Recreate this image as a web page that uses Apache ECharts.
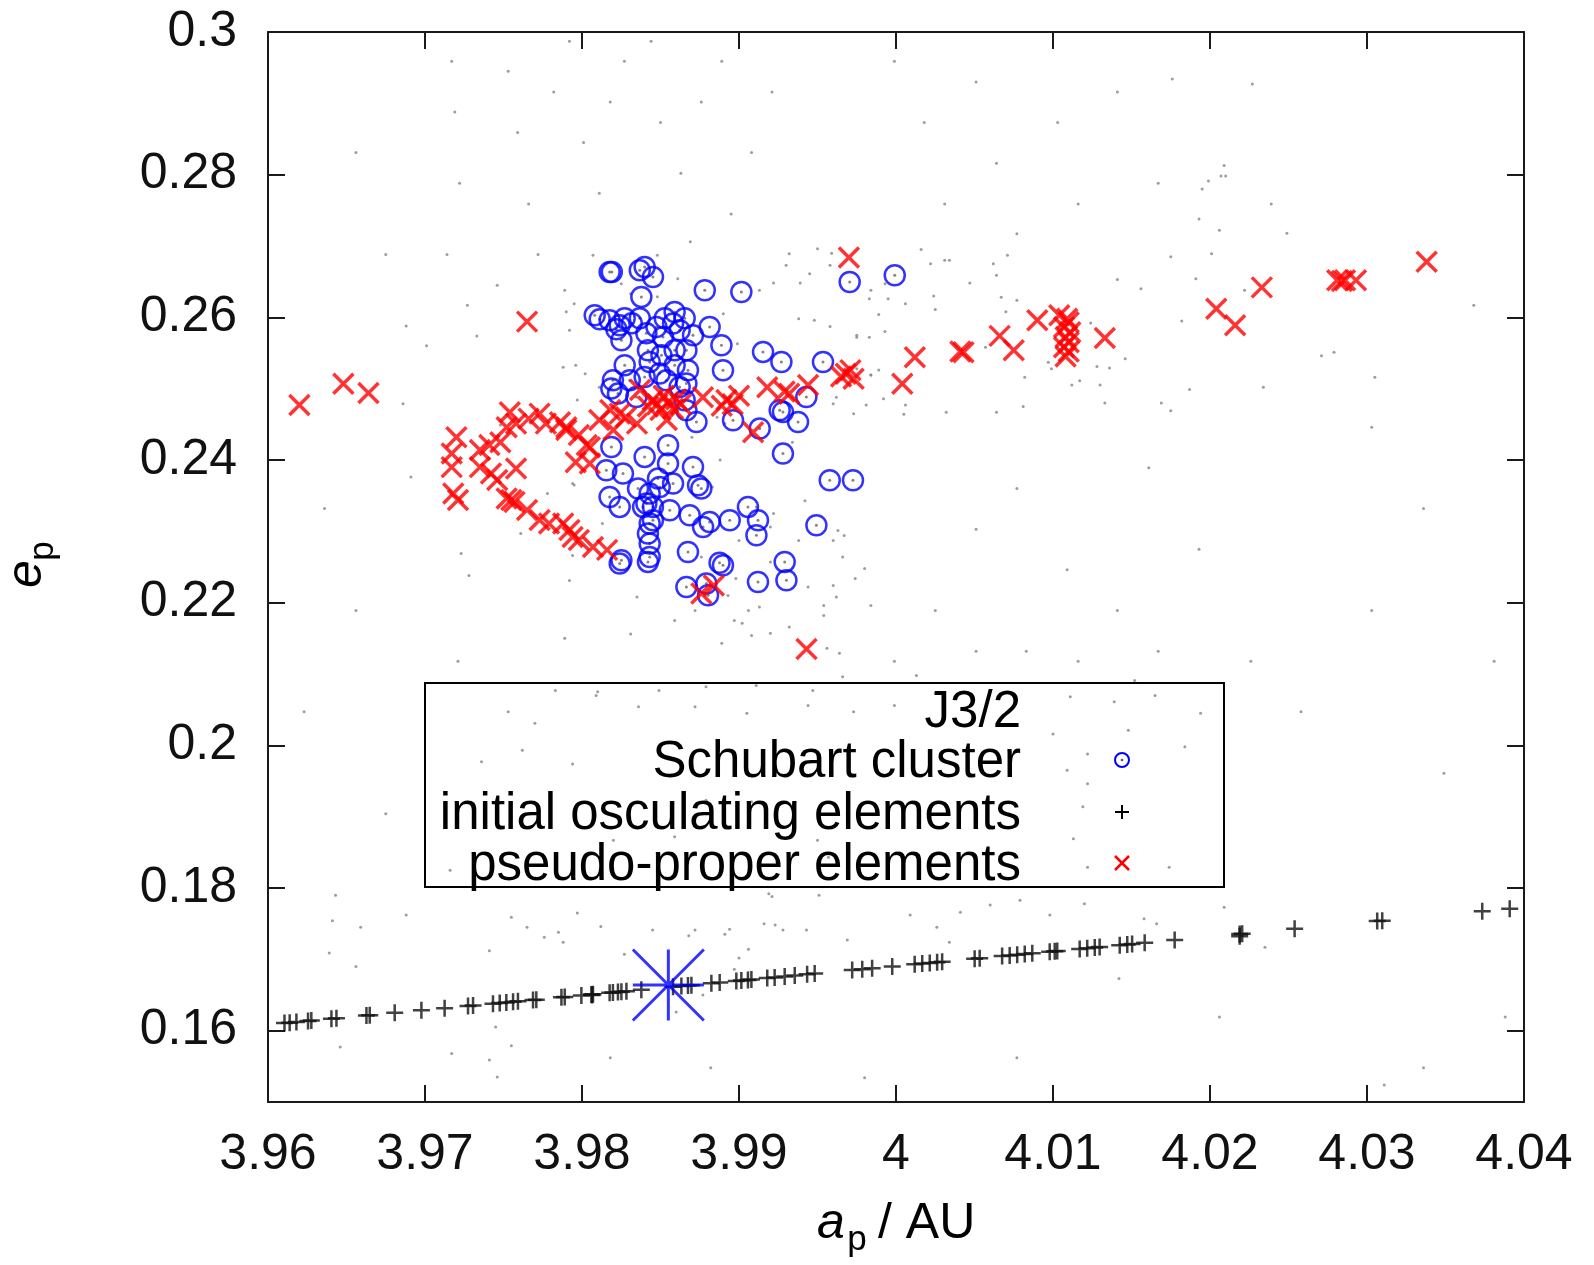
<!DOCTYPE html>
<html>
<head>
<meta charset="utf-8">
<script src="https://cdn.jsdelivr.net/npm/echarts@6/dist/echarts.min.js"></script>
<style>
html, body { margin: 0; padding: 0; background: #fff; }
#chart { width: 1594px; height: 1265px; }
</style>
</head>
<body>
<div id="chart"></div>
<script>
// Axis tick values
const xTicks = [3.96, 3.97, 3.98, 3.99, 4.00, 4.01, 4.02, 4.03, 4.04];
const yTicks = [0.16, 0.18, 0.20, 0.22, 0.24, 0.26, 0.28, 0.30];

// Legend entries
const legendTitle = 'J3/2';
const legendLabels = ['Schubart cluster', 'initial osculating elements', 'pseudo-proper elements'];

// Background asteroids of the J3/2 resonance (a_p, e_p)
const background = [
  [4.0016,0.2695],[4.0022,0.2675],[4.0031,0.2680],[4.0034,0.2680],[4.0062,0.2675],[4.0071,0.2687],[4.0064,0.2659],[4.0047,0.2648],
  [3.9993,0.2647],[3.9984,0.2638],[3.9995,0.2626],[4.0006,0.2619],[4.0024,0.2630],[4.0025,0.2611],[3.9989,0.2604],[3.9983,0.2626],
  [4.0067,0.2628],[4.0077,0.2624],[4.0070,0.2608],[4.0124,0.2592],[4.0141,0.2653],[4.0156,0.2640],[4.0175,0.2685],[4.0201,0.2689],
  [4.0191,0.2654],[4.0182,0.2595],[4.0222,0.2638],[4.0279,0.2551],[4.0305,0.2516],[4.0234,0.2502],[4.0187,0.2499],[4.0169,0.2480],
  [4.0175,0.2469],[4.0133,0.2480],[4.0130,0.2505],[4.0117,0.2511],[4.0112,0.2505],[4.0136,0.2529],[4.0128,0.2531],[4.0097,0.2537],
  [4.0099,0.2528],[4.0082,0.2516],[4.0081,0.2475],[4.0064,0.2467],[4.0032,0.2467],[4.0006,0.2477],[4.0005,0.2464],[3.9981,0.2477],
  [3.9992,0.2486],[3.9984,0.2519],[3.9989,0.2526],[4.0146,0.2542],[4.0057,0.2558],[3.9975,0.2572],[3.9983,0.2572],[3.9993,0.2580],
  [4.0176,0.2934],[4.0227,0.2927],[4.0209,0.2813],[4.0207,0.2798],[4.0210,0.2798],[4.0199,0.2791],[4.0195,0.2780],[4.0193,0.2738],
  [4.0206,0.2722],[4.0249,0.2718],
  [3.9942,0.2343],[3.9922,0.2325],[3.9920,0.2306],[3.9938,0.2287],[3.9960,0.2287],[3.9963,0.2301],[3.9967,0.2294],[3.9966,0.2264],
  [3.9980,0.2248],[3.9974,0.2234],[3.9960,0.2224],[3.9944,0.2222],[3.9954,0.2196],[3.9962,0.2208],[3.9954,0.2182],[3.9932,0.2166],
  [3.9920,0.2157],[3.9908,0.2154],[3.9902,0.2171],[3.9897,0.2175],[3.9913,0.2194],[3.9906,0.2189],[3.9889,0.2143],[3.9872,0.2189],
  [3.9859,0.2175],[3.9835,0.2208],[3.9831,0.2156],[3.9792,0.2231],[3.9789,0.2150],[3.9794,0.2266],[3.9813,0.2311],[3.9900,0.2287],
  [3.9898,0.2234],[3.9893,0.2210],[3.9911,0.2334],[3.9984,0.2196],[3.9956,0.2136],[3.9964,0.2129],[3.9920,0.2257],[3.9876,0.2264],
  [3.9807,0.2687],[3.9848,0.2687],[3.9869,0.2706],[3.9932,0.2689],[3.9950,0.2696],[3.9959,0.2690],[3.9958,0.2673],[3.9930,0.2673],
  [3.9945,0.2661],[3.9922,0.2648],[3.9939,0.2648],[3.9913,0.2638],[3.9938,0.2598],[3.9948,0.2596],[3.9958,0.2587],[3.9975,0.2575],
  [3.9975,0.2528],[3.9984,0.2519],[3.9962,0.2488],[3.9973,0.2465],[3.9960,0.2479],[3.9934,0.2425],[3.9926,0.2456],[3.9888,0.2400],
  [3.9789,0.2638],[3.9795,0.2619],[3.9790,0.2608],[3.9792,0.2582],[3.9788,0.2530],[3.9796,0.2533],[3.9802,0.2521],[3.9811,0.2502],
  [3.9797,0.2484],[3.9861,0.2654],[3.9848,0.2629],[3.9831,0.2633],[3.9825,0.2647],[3.9890,0.2605],[3.9899,0.2563],[3.9886,0.2460],
  [3.9891,0.2451],[3.9795,0.2365],
  [3.9686,0.2479],[3.9691,0.2376],[3.9748,0.2449],[3.9794,0.2367],[3.9778,0.2353],[3.9761,0.2297],[3.9723,0.2269],[3.9728,0.2238],
  [3.9870,0.2432],[3.9883,0.2362],
  [3.9641,0.1754],[3.9659,0.1745],[3.9639,0.1709],[3.9755,0.1759],[3.9765,0.1745],[3.9776,0.1731],[3.9785,0.1738],[3.9788,0.1724],
  [3.9797,0.1765],[3.9812,0.1746],[3.9845,0.1741],[3.9868,0.1733],[3.9872,0.1741],[3.9891,0.1735],[3.9894,0.1742],[3.9906,0.1714],
  [3.9900,0.1702],[3.9897,0.1686],[3.9921,0.1788],[3.9916,0.1750],[3.9741,0.1712],[3.9827,0.1707],[3.9877,0.1650],[3.9860,0.1626],
  [3.9745,0.1605],[3.9646,0.1577],[3.9717,0.1568],[3.9741,0.1559],[3.9746,0.1535],[3.9755,0.1579],[4.0311,0.1524],
  [3.9923,0.1748],[3.9928,0.1741],[3.9943,0.1741],[3.9951,0.1790],[3.9969,0.1727],[4.0009,0.1762],[4.0026,0.1745],[4.0034,0.1724],
  [4.0041,0.1766],[4.0060,0.1776],[4.0079,0.1783],[4.0098,0.1762],[4.0120,0.1778],[4.0142,0.1673],[4.0158,0.1757],[4.0166,0.1750],
  [4.0209,0.1773],[4.0235,0.1717],[3.9919,0.1792],
  [3.9783,0.2077],[3.9810,0.2075],[3.9849,0.2077],[3.9879,0.2082],[3.9911,0.2084],[3.9947,0.2077],[3.9966,0.2096],[4.0013,0.2098],
  [4.0025,0.2073],[4.0111,0.2068],[4.0139,0.2061],[4.0165,0.2070],[4.0184,0.1998],[4.0122,0.1988],[3.9770,0.2031],[3.9809,0.2070],
  [3.9836,0.2054],[3.9872,0.2054],[3.9905,0.2045],[3.9944,0.2056],[3.9973,0.2047],[3.9999,0.2056],[3.9762,0.1993],[3.9794,0.1974],
  [3.9736,0.1977],[3.9879,0.1923],[3.9908,0.1921],[4.0012,0.1960],[4.0109,0.1965],[4.0122,0.1946],[4.0119,0.1914],[4.0194,0.2045],
  [3.9820,0.1867],[3.9859,0.1872],[3.9953,0.1886],[4.0113,0.1869],[4.0122,0.1829],[4.0174,0.1829],[3.9950,0.1867],[3.9957,0.1843],
  [3.9716,0.1825],[3.9742,0.1829],[4.0100,0.2016],[4.0152,0.2091],[4.0148,0.2021],
  [3.9717,0.2959],[3.9719,0.2888],[3.9722,0.2788],[3.9714,0.2688],[3.9727,0.2617],[3.9733,0.2574],[3.9701,0.2560],[3.9688,0.2588],
  [3.9675,0.2688],[3.9656,0.2831],[3.9753,0.2945],[3.9759,0.2859],[3.9766,0.2759],[3.9772,0.2688],[3.9746,0.2645],[3.9782,0.2916],
  [3.9792,0.2987],[3.9801,0.2845],[3.9811,0.2774],[3.9818,0.2902],[3.9827,0.2959],[3.9844,0.2987],[3.9850,0.2873],[3.9863,0.2802],
  [3.9876,0.2902],[3.9889,0.2959],[3.9895,0.2745],[3.9908,0.2831],[3.9921,0.2916],[3.9999,0.2959],[4.0018,0.2873],[4.0031,0.2759],
  [4.0051,0.2930],[4.0064,0.2816],[4.0077,0.2717],[4.0103,0.2873],[4.0116,0.2759],[4.0141,0.2916],[4.0167,0.2788],[4.0239,0.2759],
  [4.0271,0.2546],[4.0303,0.2446],[4.0336,0.2332],[4.0368,0.2617],[4.0381,0.2118],[4.0349,0.1961],[4.0303,0.2189],[4.0258,0.2047],
  [4.0226,0.2118],[4.0193,0.2275],[4.0161,0.2389],[4.0141,0.2189],[4.0109,0.2246],[4.0077,0.2360],[4.0051,0.2303],[4.0025,0.2189],
  [3.9999,0.2118],[4.0051,0.2132],[4.0083,0.2132],[4.0116,0.2118],[4.0167,0.2132],[3.9636,0.2332],[3.9656,0.2189],[3.9623,0.2047],
  [3.9675,0.1904],[3.9643,0.1790],[3.9688,0.1762],[3.9656,0.1690],[3.9721,0.2118],[3.9753,0.2047],[4.0388,0.1619],[4.0336,0.1548],
  [4.0206,0.1619],[4.0077,0.1562],[3.9980,0.1534],[3.9882,0.1548],[3.9818,0.1562]
];

// Initial osculating elements of the cluster members
const initialOsculating = [
  [3.96105,0.16106],[3.96138,0.16112],[3.96181,0.16121],[3.96255,0.16136],[3.96276,0.16141],[3.96404,0.16167],[3.96436,0.16174],
  [3.96627,0.16213],[3.96648,0.16217],[3.96807,0.16250],[3.96977,0.16285],[3.97125,0.16315],[3.97274,0.16346],[3.97306,0.16352],
  [3.97433,0.16378],[3.97476,0.16387],[3.97518,0.16396],[3.97561,0.16405],[3.97592,0.16411],[3.97688,0.16431],[3.97709,0.16435],
  [3.97869,0.16468],[3.97890,0.16472],[3.97996,0.16494],[3.98060,0.16507],[3.98070,0.16509],[3.98064,0.16501],[3.98176,0.16531],
  [3.98197,0.16535],[3.98229,0.16542],[3.98251,0.16547],[3.98283,0.16553],[3.98378,0.16573],[3.98580,0.16614],[3.98633,0.16625],
  [3.98675,0.16634],[3.98697,0.16638],[3.98824,0.16664],[3.98877,0.16675],[3.98983,0.16697],[3.99015,0.16704],[3.99057,0.16712],
  [3.99079,0.16717],[3.99180,0.16737],[3.99227,0.16747],[3.99291,0.16760],[3.99355,0.16773],[3.99434,0.16790],[3.99482,0.16800],
  [3.99721,0.16849],[3.99785,0.16862],[3.99848,0.16875],[3.99976,0.16901],[4.00119,0.16930],[4.00167,0.16940],[4.00215,0.16950],
  [4.00262,0.16960],[4.00294,0.16966],[4.00501,0.17009],[4.00533,0.17016],[4.00676,0.17045],[4.00724,0.17055],[4.00772,0.17065],
  [4.00820,0.17075],[4.00868,0.17084],[4.00979,0.17107],[4.01011,0.17114],[4.01027,0.17117],[4.01170,0.17146],[4.01218,0.17156],
  [4.01266,0.17166],[4.01297,0.17173],[4.01425,0.17199],[4.01473,0.17209],[4.01504,0.17215],[4.01584,0.17231],[4.01775,0.17271],
  [4.02189,0.17356],[4.02189,0.17325],[4.02205,0.17359],[4.02539,0.17428],[4.03065,0.17536],[4.03097,0.17542],[4.03734,0.17673],
  [4.03909,0.17709]
];

// Schubart cluster members, pseudo-proper elements
const schubartCluster = [
  [3.98176,0.26636],[3.98190,0.26636],[3.98368,0.26660],[3.98399,0.26706],[3.98452,0.26566],[3.98378,0.26286],[3.98782,0.26379],
  [3.99015,0.26356],[3.99705,0.26496],[3.99992,0.26590],
  [3.98081,0.26029],[3.98176,0.25959],[3.98272,0.25987],[3.98368,0.25987],[3.98240,0.25889],[3.98251,0.25679],[3.98474,0.25865],
  [3.98590,0.26075],[3.98580,0.25913],[3.98516,0.25725],[3.98707,0.25749],[3.98813,0.25865],[3.98888,0.25608],
  [3.98420,0.25538],[3.98506,0.25468],[3.98590,0.25538],[3.98665,0.25538],[3.98272,0.25328],[3.98431,0.25374],[3.98590,0.25328],
  [3.98675,0.25258],[3.98898,0.25258],[3.99153,0.25515],[3.99270,0.25374],[3.99535,0.25374],
  [3.98197,0.25118],[3.98187,0.25002],[3.98229,0.24931],[3.98304,0.25118],[3.98399,0.25164],[3.98538,0.25118],[3.98622,0.25024],
  [3.98495,0.25212],[3.98346,0.24884],[3.98654,0.24838],[3.98665,0.25072],
  [3.98962,0.24557],[3.99132,0.24441],[3.99259,0.24697],[3.99280,0.24673],[3.99376,0.24533],[3.99429,0.24884],[3.98729,0.24533],
  [3.98665,0.24697],
  [3.98187,0.24183],[3.98548,0.24207],[3.98399,0.24043],[3.98548,0.23950],[3.98707,0.23902],[3.99280,0.24090],
  [3.98155,0.23856],[3.98261,0.23810],[3.98357,0.23600],[3.98484,0.23740],[3.98495,0.23622],[3.98580,0.23670],[3.98739,0.23646],
  [3.98760,0.23600],[3.99578,0.23716],[3.99726,0.23716],
  [3.98176,0.23482],[3.98240,0.23342],[3.98431,0.23530],[3.98389,0.23342],[3.98559,0.23295],[3.98686,0.23225],[3.98771,0.23061],
  [3.98813,0.23131],[3.98941,0.23155],[3.99057,0.23342],[3.99121,0.23155],[3.99111,0.22945],
  [3.98431,0.23109],[3.98420,0.22969],[3.98431,0.22828],[3.98675,0.22711],[3.98240,0.22548],[3.98420,0.22571],[3.98898,0.22524],
  [3.98876,0.22560],[3.99493,0.23085],[3.99291,0.22571],[3.99302,0.22314],[3.99121,0.22290],[3.98665,0.22220],[3.98792,0.22268],
  [3.98803,0.22104],
  [3.98410,0.23389],[3.98452,0.23342],[3.98452,0.23155],[3.98431,0.22641],[3.98251,0.22594],
  [3.98113,0.25973],[3.98317,0.25917],[3.98219,0.25833],[3.98410,0.25777],[3.98527,0.25987],[3.98654,0.25987],[3.98622,0.25819]
];

// Pseudo-proper elements of the cluster members
const pseudoProper = [
  [3.9620,0.2477],[3.9648,0.2507],[3.9664,0.2494],[3.9765,0.2594],
  [3.9720,0.2432],[3.9717,0.2409],[3.9717,0.2390],[3.9718,0.2353],[3.9721,0.2344],
  [3.9735,0.2414],[3.9741,0.2421],[3.9748,0.2425],[3.9735,0.2390],[3.9742,0.2381],[3.9746,0.2372],[3.9758,0.2388],
  [3.9752,0.2346],[3.9755,0.2344],[3.9757,0.2341],
  [3.9754,0.2467],[3.9752,0.2446],[3.9758,0.2451],[3.9766,0.2458],[3.9773,0.2465],[3.9777,0.2451],[3.9786,0.2453],
  [3.9790,0.2442],[3.9798,0.2435],[3.9803,0.2421],[3.9796,0.2397],[3.9805,0.2395],
  [3.9765,0.2330],[3.9773,0.2316],[3.9779,0.2311],[3.9788,0.2311],[3.9792,0.2302],[3.9794,0.2292],[3.9798,0.2288],
  [3.9807,0.2278],[3.9816,0.2274],
  [3.9811,0.2456],[3.9820,0.2442],[3.9805,0.2418],[3.9790,0.2446],[3.9824,0.2465],[3.9818,0.2470],[3.9828,0.2460],
  [3.9835,0.2451],[3.9837,0.2498],[3.9845,0.2484],[3.9848,0.2478],[3.9852,0.2490],[3.9842,0.2475],[3.9855,0.2481],
  [3.9858,0.2472],[3.9854,0.2456],[3.9850,0.2470],[3.9860,0.2485],[3.9863,0.2478],[3.9877,0.2488],[3.9892,0.2484],
  [3.9896,0.2478],[3.9900,0.2490],[3.9889,0.2476],[3.9909,0.2439],[3.9918,0.2502],[3.9932,0.2493],[3.9929,0.2496],
  [3.9944,0.2505],[3.9968,0.2521],[3.9971,0.2526],[3.9965,0.2517],[3.9973,0.2514],[3.9970,0.2684],
  [4.0004,0.2507],[4.0012,0.2544],[4.0041,0.2552],[4.0043,0.2551],[4.0066,0.2574],[4.0075,0.2554],[4.0090,0.2596],
  [4.0104,0.2603],[4.0108,0.2545],[4.0110,0.2552],[4.0107,0.2558],[4.0110,0.2565],[4.0108,0.2572],[4.0111,0.2579],
  [4.0107,0.2586],[4.0110,0.2593],[4.0109,0.2598],
  [4.0133,0.2571],[4.0204,0.2612],[4.0216,0.2589],[4.0233,0.2642],[4.0281,0.2652],[4.0284,0.2651],[4.0286,0.2652],
  [4.0293,0.2652],[4.0338,0.2678],
  [3.9876,0.2213],[3.9884,0.2224],[3.9943,0.2135]
];

// (1911) Schubart, initial osculating elements
const schubartOsculating = [[3.9855, 0.1664]];

const FONT = '"Liberation Sans", Arial, Helvetica, sans-serif';
const PLUS = 'path://M5,0L5,10M0,5L10,5';
const CROSS = 'path://M0,0L10,10M10,0L0,10';
const STAR = 'path://M50,0L50,100M0,50L100,50M0,0L100,100M100,0L0,100';
const AXIS_COLOR = '#1a1a1a';
const KEY_FONT = 51;

const fmt = v => String(parseFloat(Number(v).toFixed(2)));

function makeAxis(isX, pos, showLabels, ticks) {
  return {
    type: 'value',
    position: pos,
    min: isX ? 3.96 : 0.15,
    max: isX ? 4.04 : 0.30,
    axisLine: { show: true, onZero: false, lineStyle: { color: AXIS_COLOR, width: 2 } },
    axisTick: { show: true, inside: true, length: 17, customValues: ticks, lineStyle: { color: AXIS_COLOR, width: 2 } },
    axisLabel: {
      show: showLabels,
      customValues: ticks,
      formatter: fmt,
      fontSize: 50,
      fontFamily: FONT,
      color: '#111',
      margin: isX ? 28 : 31
    },
    splitLine: { show: false }
  };
}

const chart = echarts.init(document.getElementById('chart'), null, { renderer: 'canvas' });

const legendX = 1021, markX = 1122;
const textY = [713, 763, 815, 866];
const rowY = [760, 812, 863];

function keyText(text, y) {
  return { type: 'text', z: 10, x: legendX, y: y,
    style: { text: text, fontSize: KEY_FONT, fontFamily: FONT, fill: '#000', align: 'right', verticalAlign: 'middle' } };
}

chart.setOption({
  animation: false,
  backgroundColor: '#fff',
  grid: { left: 268, top: 32, width: 1256, height: 1070, containLabel: false },
  xAxis: [makeAxis(true, 'bottom', true, xTicks), makeAxis(true, 'top', false, xTicks)],
  yAxis: [makeAxis(false, 'left', true, yTicks), makeAxis(false, 'right', false, yTicks)],
  series: [
    {
      name: 'background', type: 'scatter', data: background, silent: true, z: 1,
      symbol: 'circle', symbolSize: 3, itemStyle: { color: '#858585' }
    },
    {
      name: legendLabels[1], type: 'scatter', data: initialOsculating, silent: true, z: 2,
      symbol: PLUS, symbolSize: 17,
      itemStyle: { color: 'none', borderColor: '#111', borderWidth: 2.5 }
    },
    {
      name: 'cluster centres', type: 'scatter', data: schubartCluster, silent: true, z: 3,
      symbol: 'circle', symbolSize: 3, itemStyle: { color: '#666' }
    },
    {
      name: legendLabels[0], type: 'scatter', data: schubartCluster, silent: true, z: 3,
      symbol: 'circle', symbolSize: 20,
      itemStyle: { color: 'rgba(0,0,0,0)', borderColor: '#0000ff', borderWidth: 2.5 }
    },
    {
      name: legendLabels[2], type: 'scatter', data: pseudoProper, silent: true, z: 4,
      symbol: CROSS, symbolSize: 20,
      itemStyle: { color: 'none', borderColor: '#ff0000', borderWidth: 3.5 }
    },
    {
      name: 'Schubart', type: 'scatter', data: schubartOsculating, silent: true, z: 5,
      symbol: STAR, symbolSize: 71,
      itemStyle: { color: 'none', borderColor: '#0000ff', borderWidth: 3 }
    }
  ],
  graphic: [
    // key box
    { type: 'rect', z: 10, shape: { x: 425, y: 683, width: 799, height: 204 },
      style: { fill: 'none', stroke: '#000', lineWidth: 2 } },
    keyText(legendTitle, textY[0]),
    keyText(legendLabels[0], textY[1]),
    keyText(legendLabels[1], textY[2]),
    keyText(legendLabels[2], textY[3]),
    // key markers
    { type: 'circle', z: 10, shape: { cx: markX, cy: rowY[0], r: 7 },
      style: { fill: 'none', stroke: '#0000ff', lineWidth: 2 } },
    { type: 'circle', z: 10, shape: { cx: markX, cy: rowY[0], r: 1.3 }, style: { fill: '#555' } },
    { type: 'line', z: 10, shape: { x1: markX - 7, y1: rowY[1], x2: markX + 7, y2: rowY[1] },
      style: { stroke: '#000', lineWidth: 2 } },
    { type: 'line', z: 10, shape: { x1: markX, y1: rowY[1] - 7, x2: markX, y2: rowY[1] + 7 },
      style: { stroke: '#000', lineWidth: 2 } },
    { type: 'line', z: 10, shape: { x1: markX - 7, y1: rowY[2] - 7, x2: markX + 7, y2: rowY[2] + 7 },
      style: { stroke: '#ff0000', lineWidth: 2.5 } },
    { type: 'line', z: 10, shape: { x1: markX + 7, y1: rowY[2] - 7, x2: markX - 7, y2: rowY[2] + 7 },
      style: { stroke: '#ff0000', lineWidth: 2.5 } },
    // x-axis title: a_p / AU
    { type: 'text', z: 10, x: 831, y: 1224,
      style: { text: 'a', fontSize: 50, fontStyle: 'italic', fontFamily: FONT, fill: '#000', align: 'center', verticalAlign: 'middle' } },
    { type: 'text', z: 10, x: 857, y: 1240,
      style: { text: 'p', fontSize: 35, fontFamily: FONT, fill: '#000', align: 'center', verticalAlign: 'middle' } },
    { type: 'text', z: 10, x: 878, y: 1224,
      style: { text: '/ AU', fontSize: 50, fontFamily: FONT, fill: '#000', align: 'left', verticalAlign: 'middle' } },
    // y-axis title: e_p
    { type: 'text', z: 10, x: 27, y: 574, rotation: Math.PI / 2,
      style: { text: 'e', fontSize: 50, fontStyle: 'italic', fontFamily: FONT, fill: '#000', align: 'center', verticalAlign: 'middle' } },
    { type: 'text', z: 10, x: 43, y: 551, rotation: Math.PI / 2,
      style: { text: 'p', fontSize: 35, fontFamily: FONT, fill: '#000', align: 'center', verticalAlign: 'middle' } }
  ]
});
</script>
</body>
</html>
